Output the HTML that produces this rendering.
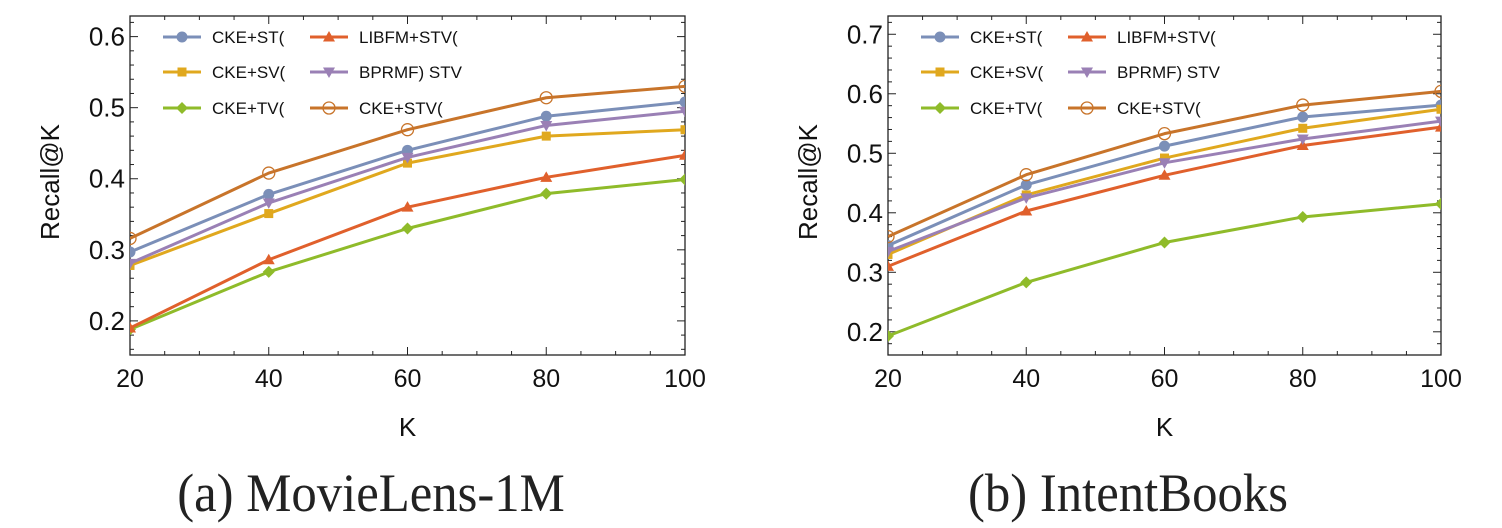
<!DOCTYPE html>
<html><head><meta charset="utf-8"><style>
html,body{margin:0;padding:0;background:#fff;}
svg{display:block;}
</style></head><body>
<svg id="fig" width="1502" height="528" xmlns="http://www.w3.org/2000/svg">
<text x="0" y="0" transform="translate(371 511) scale(0.94 1)" font-family="Liberation Serif, serif" font-size="54" text-anchor="middle" fill="#222">(a) MovieLens-1M</text>
<text x="0" y="0" transform="translate(1128 511) scale(0.94 1)" font-family="Liberation Serif, serif" font-size="54" text-anchor="middle" fill="#222">(b) IntentBooks</text>
</svg>
<script>
const categories = [20, 40, 60, 80, 100];
const seriesNames = ["CKE+ST(", "CKE+SV(", "CKE+TV(", "LIBFM+STV(", "BPRMF) STV", "CKE+STV("];
const a_ST = [0.297, 0.378, 0.440, 0.488, 0.508];
const a_SV = [0.278, 0.351, 0.422, 0.460, 0.469];
const a_TV = [0.188, 0.269, 0.330, 0.379, 0.399];
const a_LIBFM = [0.190, 0.286, 0.360, 0.402, 0.433];
const a_BPRMF = [0.281, 0.366, 0.430, 0.475, 0.495];
const a_STV = [0.316, 0.408, 0.469, 0.514, 0.530];
const b_ST = [0.345, 0.447, 0.512, 0.561, 0.581];
const b_SV = [0.330, 0.430, 0.492, 0.542, 0.574];
const b_TV = [0.193, 0.283, 0.350, 0.393, 0.415];
const b_LIBFM = [0.310, 0.403, 0.463, 0.513, 0.544];
const b_BPRMF = [0.335, 0.425, 0.484, 0.524, 0.554];
const b_STV = [0.360, 0.464, 0.533, 0.581, 0.604];
const a_yTicks = [0.2, 0.3, 0.4, 0.5, 0.6];
const b_yTicks = [0.2, 0.3, 0.4, 0.5, 0.6, 0.7];

const NS = "http://www.w3.org/2000/svg";
const svg = document.getElementById("fig");
const colors = ["#7b8fb8", "#e0a81e", "#8fbb2a", "#e0602c", "#9a80b5", "#c8742a"];
const markers = ["circle", "square", "diamond", "tri", "tridown", "ocircle"];

function mk(tag, attrs, parent) {
  const e = document.createElementNS(NS, tag);
  for (const k in attrs) e.setAttribute(k, attrs[k]);
  (parent || svg).appendChild(e);
  return e;
}

function marker(g, type, x, y, c) {
  let m;
  if (type === "circle") m = mk("circle", {cx: x, cy: y, r: 5.5, fill: c}, g);
  else if (type === "ocircle") m = mk("circle", {cx: x, cy: y, r: 6, fill: "none", stroke: c, "stroke-width": 1.3}, g);
  else if (type === "square") m = mk("rect", {x: x - 4.5, y: y - 4.5, width: 9, height: 9, fill: c}, g);
  else if (type === "diamond") m = mk("polygon", {points: `${x},${y-6} ${x+6},${y} ${x},${y+6} ${x-6},${y}`, fill: c}, g);
  else if (type === "tri") m = mk("polygon", {points: `${x},${y-6} ${x+6},${y+4.5} ${x-6},${y+4.5}`, fill: c}, g);
  else m = mk("polygon", {points: `${x},${y+6} ${x+6},${y-4.5} ${x-6},${y-4.5}`, fill: c}, g);
  return m;
}

function chart(id, L, R, T, B, ymin, ymax, yTicks, data, legX) {
  const g = mk("g", {});
  
  
  const xs = v => L + (v - 20) / 80 * (R - L);
  const ys = v => B - (v - ymin) / (ymax - ymin) * (B - T);
  const cp = mk("clipPath", {id: id + "-clip"}, g);
  mk("rect", {x: L, y: T, width: R - L, height: B - T}, cp);
  const fr = mk("rect", {x: L, y: T, width: R - L, height: B - T, fill: "none", stroke: "#222", "stroke-width": 1.3}, g);
  
  
  for (let v = 20; v <= 100; v += 5) {
    const x = xs(v), len = (v % 20 === 0) ? 8 : 4;
    mk("line", {x1: x, y1: B, x2: x, y2: B - len, stroke: "#222", "stroke-width": 1}, g);
    mk("line", {x1: x, y1: T, x2: x, y2: T + len, stroke: "#222", "stroke-width": 1}, g);
  }
  categories.forEach(v => {
    const t = mk("text", {x: xs(v), y: 387, "font-family": "Liberation Sans, sans-serif", "font-size": 25, "text-anchor": "middle", fill: "#111"}, g);
    t.textContent = v;
    
    
  });
  for (let k = Math.ceil(ymin / 0.02); k * 0.02 <= ymax + 1e-9; k++) {
    const v = k * 0.02, y = ys(v);
    const major = Math.abs(v * 10 - Math.round(v * 10)) < 1e-6;
    const len = major ? 8 : 4;
    mk("line", {x1: L, y1: y, x2: L + len, y2: y, stroke: "#222", "stroke-width": 1}, g);
    mk("line", {x1: R, y1: y, x2: R - len, y2: y, stroke: "#222", "stroke-width": 1}, g);
  }
  yTicks.forEach(v => {
    const t = mk("text", {x: L - 5, y: ys(v) + 9, "font-family": "Liberation Sans, sans-serif", "font-size": 26, "text-anchor": "end", fill: "#111"}, g);
    t.textContent = v.toFixed(1);
    
    
  });
  const xt = mk("text", {x: (L + R) / 2, y: 436, "font-family": "Liberation Sans, sans-serif", "font-size": 26, "text-anchor": "middle", fill: "#111"}, g);
  xt.textContent = "K";
  
  
  const ycx = L - 80, ycy = 182;
  const yt = mk("text", {x: ycx, y: ycy, "font-family": "Liberation Sans, sans-serif", "font-size": 26, "text-anchor": "middle", fill: "#111", transform: `rotate(-90 ${ycx} ${ycy}) translate(0 9)`}, g);
  yt.textContent = "Recall@K";
  
  
  const sg = mk("g", {"clip-path": `url(#${id}-clip)`}, g);
  data.forEach((vals, i) => {
    const pts = vals.map((v, j) => `${xs(categories[j])},${ys(v)}`).join(" ");
    const pl = mk("polyline", {points: pts, fill: "none", stroke: colors[i], "stroke-width": 3, "stroke-linejoin": "round"}, sg);
    
    
    vals.forEach((v, j) => {
      const m = marker(sg, markers[i], xs(categories[j]), ys(v), colors[i]);
      
      
    });
  });
  const rows = [37, 72, 108];
  seriesNames.forEach((n, i) => {
    const col = Math.floor(i / 3), row = i % 3;
    const lx = legX + col * 147, ly = rows[row];
    const lg = mk("g", {}, g);
    
    
    mk("line", {x1: lx, y1: ly, x2: lx + 38, y2: ly, stroke: colors[i], "stroke-width": 3}, lg);
    marker(lg, markers[i], lx + 19, ly, colors[i]);
    const t = mk("text", {x: lx + 49, y: ly + 6, "font-family": "Liberation Sans, sans-serif", "font-size": 17, fill: "#111"}, lg);
    t.textContent = n;
  });
}

chart("chart-movielens", 130, 685, 16, 355, 0.152, 0.629, a_yTicks,
  [a_ST, a_SV, a_TV, a_LIBFM, a_BPRMF, a_STV], 163);
chart("chart-intentbooks", 888, 1441, 16, 355, 0.161, 0.7307, b_yTicks,
  [b_ST, b_SV, b_TV, b_LIBFM, b_BPRMF, b_STV], 921);
</script>
</body></html>
